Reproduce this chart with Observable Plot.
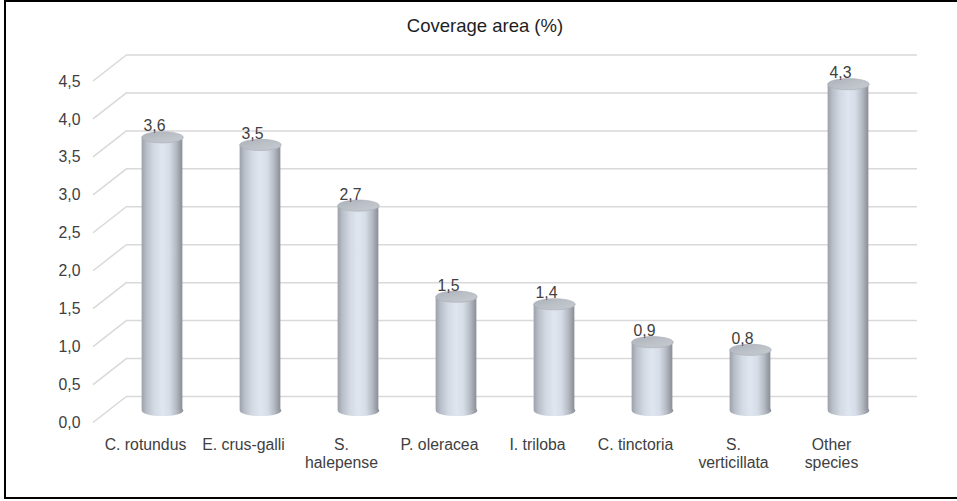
<!DOCTYPE html>
<html>
<head>
<meta charset="utf-8">
<script src="https://cdn.jsdelivr.net/npm/d3@7"></script>
<script src="https://cdn.jsdelivr.net/npm/@observablehq/plot@0.6"></script>
<style>
  body { margin: 0; background: #fff; font-family: Arial, "Liberation Sans", sans-serif; }
  #wrap { position: relative; width: 957px; height: 501px; overflow: hidden; }
  #frame { position: absolute; left: 4px; top: 0px; width: 970px; height: 499px; border: 2px solid #000; box-sizing: border-box; pointer-events: none; }
  #title { position: absolute; left: 4px; width: 962px; top: 17px; text-align: center; font-size: 18.5px; line-height: 1; color: #1e1e1e; }
  #chart { position: absolute; left: 0; top: 0; }
</style>
</head>
<body>
<div id="wrap">
  <div id="chart"></div>
  <div id="title">Coverage area (%)</div>
  <div id="frame"></div>
</div>
<script>
// ---- data ----
const categories = ["C. rotundus", "E. crus-galli", "S.\nhalepense", "P. oleracea", "I. triloba", "C. tinctoria", "S.\nverticillata", "Other\nspecies"];
const values = [3.6, 3.5, 2.7, 1.5, 1.4, 0.9, 0.8, 4.3];
const yTicks = [0, 0.5, 1, 1.5, 2, 2.5, 3, 3.5, 4, 4.5];

const data = categories.map((c, i) => ({cat: c, value: values[i]}));
const fmt = v => d3.format(".1f")(v).replace(".", ",");

// 3D offsets (pixels): bars sit mid-depth, gridlines on the back wall
const BAR_DX = 17, BAR_DY = -12.5;
const BACK_DX = 34, BACK_DY = -26.5;
const FONT = 15.8;

// ellipse symbol for cylinder caps
const ellipse = {
  draw(ctx, size) {
    const rx = Math.sqrt(size / Math.PI), ry = rx * 0.27, k = 0.5523;
    ctx.moveTo(rx, 0);
    ctx.bezierCurveTo(rx, ry * k, rx * k, ry, 0, ry);
    ctx.bezierCurveTo(-rx * k, ry, -rx, ry * k, -rx, 0);
    ctx.bezierCurveTo(-rx, -ry * k, -rx * k, -ry, 0, -ry);
    ctx.bezierCurveTo(rx * k, -ry, rx, -ry * k, rx, 0);
    ctx.closePath();
  }
};

const defs = () => {
  const d = d3.create("svg:defs");
  const body = d.append("linearGradient").attr("id", "cylBody").attr("x1", 0).attr("x2", 1).attr("y1", 0).attr("y2", 0);
  [[0, "#9ba0a9"], [0.12, "#b9bfc8"], [0.3, "#d3d9e3"], [0.5, "#dfe6f0"], [0.68, "#d6dde8"], [0.85, "#b5bac2"], [0.95, "#979ca4"], [1, "#8a8e96"]]
    .forEach(([o, c]) => body.append("stop").attr("offset", o).attr("stop-color", c));
  const top = d.append("linearGradient").attr("id", "cylTop").attr("x1", 0).attr("x2", 1).attr("y1", 0).attr("y2", 1);
  [[0, "#aab0b8"], [0.5, "#bcc1c8"], [1, "#c6cad1"]]
    .forEach(([o, c]) => top.append("stop").attr("offset", o).attr("stop-color", c));
  return d.node();
};

// diagonal gridline connectors from the front axis to the back wall
const diagonals = (index, scales, values, dims) => {
  const g = d3.create("svg:g").attr("stroke", "#d9d9d9").attr("stroke-width", 1.5);
  for (const t of yTicks) {
    g.append("line")
      .attr("x1", dims.marginLeft).attr("y1", scales.y(t))
      .attr("x2", dims.marginLeft + BACK_DX).attr("y2", scales.y(t) + BACK_DY);
  }
  return g.node();
};

const BAND = 790 / categories.length, BAR_W = 41.5, INSET = (BAND - BAR_W) / 2;

const chart = Plot.plot({
  width: 957,
  height: 501,
  marginLeft: 93,
  marginRight: 74,
  marginTop: 81,
  marginBottom: 78.5,
  style: {fontFamily: "Arial, 'Liberation Sans', sans-serif", fontSize: FONT + "px", background: "transparent", overflow: "visible"},
  x: {domain: categories, padding: 0, axis: null},
  y: {domain: [0, 4.5], ticks: yTicks, axis: null},
  marks: [
    defs,
    Plot.ruleY(yTicks, {dx: BACK_DX, dy: BACK_DY, stroke: "#d9d9d9", strokeWidth: 1.5}),
    diagonals,
    Plot.axisY(yTicks, {tickSize: 0, tickPadding: 13, tickFormat: fmt, fill: "#404040", fontSize: FONT, label: null}),
    // cylinder bottom cap
    Plot.dot(data, {x: "cat", y: () => 0, r: BAR_W / 2, symbol: ellipse, fill: "url(#cylBody)", stroke: "none", dx: BAR_DX, dy: BAR_DY}),
    // cylinder body
    Plot.barY(data, {x: "cat", y: "value", fill: "url(#cylBody)", insetLeft: INSET, insetRight: INSET, dx: BAR_DX, dy: BAR_DY}),
    // cylinder top cap
    Plot.dot(data, {x: "cat", y: "value", r: BAR_W / 2, symbol: ellipse, fill: "url(#cylTop)", stroke: "#a9adb5", strokeWidth: 0.6, dx: BAR_DX, dy: BAR_DY}),
    // value labels
    Plot.text(data, {x: "cat", y: "value", text: d => fmt(d.value), dx: 9, dy: -18.5, lineAnchor: "bottom", fontSize: FONT, fill: "#404040"}),
    // category labels
    Plot.text(data, {x: "cat", y: () => 0, text: "cat", dy: 14.5, lineAnchor: "top", lineHeight: 1.12, fontSize: FONT, fill: "#404040"})
  ]
});

document.getElementById("chart").appendChild(chart);
</script>
</body>
</html>
